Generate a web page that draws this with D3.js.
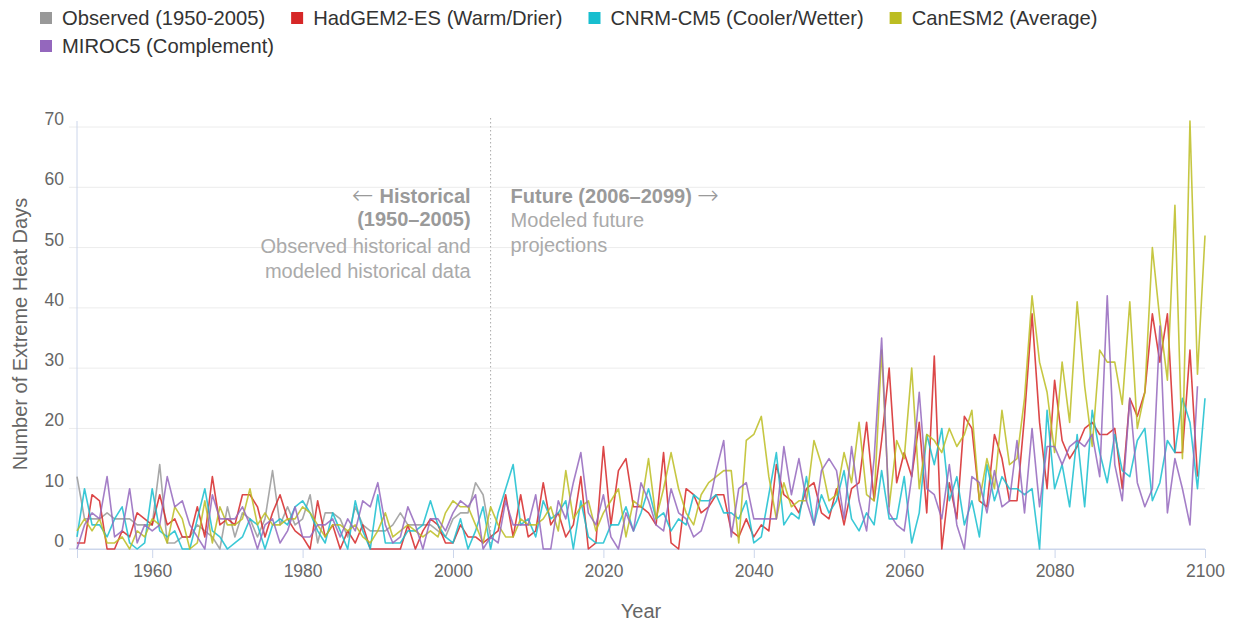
<!DOCTYPE html>
<html>
<head>
<meta charset="utf-8">
<script src="https://cdn.jsdelivr.net/npm/d3@7"></script>
<style>
  body { margin: 0; background: #fff; }
  svg { display: block; font-family: "Liberation Sans", Arial, Helvetica, sans-serif; }
</style>
</head>
<body>
<div id="chart"></div>
<script>
// Series values, one per year
const observedStart = 1950;
const modelStart = 1950;

const observed = [12,5,5,5,6,5,5,5,4,4, 4,14,1,1,2,2,4,3,2,0, 7,2,6,5,2,5,13,4,7,4,
  5,9,1,6,6,5,2,7,4,3, 3,3,4,6,4,4,4,4,3,2, 5,6,6,11,9,2];

const hadgem = [1,1,9,8,0,0,3,2,6,5, 4,9,4,5,2,2,7,2,12,4, 5,4,9,9,7,2,6,9,5,3,
  2,0,8,2,4,0,3,1,4,0, 0,0,0,0,4,0,3,5,4,1, 1,4,2,2,1,2,3,9,2,9,
  2,3,11,4,6,2,4,12,0,1, 17,4,13,15,7,7,6,4,16,1, 0,10,9,6,7,9,9,3,2,5,
  2,4,3,14,9,8,6,10,11,6, 5,10,4,10,11,21,8,18,30,11, 16,12,21,6,32,0,11,5,22,20,
  8,7,19,15,8,8,22,39,21,10, 28,18,15,17,20,21,19,19,20,10, 25,22,26,39,31,39,16,16,33,12];

const cnrm = [2,10,4,4,2,5,7,1,0,1, 10,3,2,3,0,0,5,10,3,2, 0,1,2,5,4,0,4,5,4,7,
  8,6,3,1,6,3,0,8,3,0, 9,1,1,1,3,3,4,8,4,2, 1,5,0,3,7,0,6,10,14,4,
  5,2,8,5,6,8,0,8,2,1, 1,4,4,7,3,6,10,5,6,3, 5,4,9,8,8,9,6,6,5,8,
  1,2,9,16,4,6,5,12,4,9, 6,8,13,5,3,6,4,13,5,5, 12,1,6,19,14,20,8,12,4,8,
  2,14,8,12,10,10,9,10,0,23, 10,14,7,19,7,23,16,11,19,13, 12,18,20,8,11,18,16,25,21,10, 25];

const canesm = [3,5,3,5,1,1,2,0,3,2, 5,4,1,7,5,0,1,8,1,7, 4,4,5,10,4,6,4,4,5,5,
  7,6,4,2,4,4,3,4,2,1, 3,6,2,3,4,3,2,3,2,6, 8,7,7,4,1,7,4,2,2,5,
  4,4,5,7,3,13,5,7,8,3, 6,8,10,2,8,7,15,5,10,16, 10,6,4,9,11,12,13,13,1,18,
  19,22,12,5,11,7,8,8,18,14, 8,9,16,11,21,9,8,33,7,18, 15,30,10,19,18,16,20,17,19,23,
  8,15,10,23,14,15,25,42,31,26, 16,31,21,41,27,17,33,31,31,24, 41,20,26,50,38,28,57,15,71,29, 52];

const miroc = [0,4,6,5,12,2,3,10,1,4, 3,4,12,7,8,4,2,0,9,5, 5,5,7,4,0,4,5,1,3,7,
  2,2,4,4,5,2,5,3,8,7, 11,4,1,2,7,4,0,5,5,3, 6,8,7,9,0,2,1,8,4,4,
  4,9,0,0,8,5,11,16,6,4, 9,2,0,6,3,11,8,4,3,10, 6,5,2,3,7,13,18,2,10,11,
  5,5,5,5,17,9,15,8,4,13, 15,13,5,17,8,3,15,35,6,4, 3,12,26,10,9,5,14,4,0,12,
  11,6,13,7,8,18,6,20,7,17, 17,14,17,18,17,19,12,42,14,8, 25,11,7,10,37,6,15,10,4,27];

const seriesNames = ["Observed (1950-2005)", "HadGEM2-ES (Warm/Drier)", "CNRM-CM5 (Cooler/Wetter)", "CanESM2 (Average)", "MIROC5 (Complement)"];
const seriesColors = ["#999999", "#d62728", "#17becf", "#bcbd22", "#9467bd"];
const seriesValues = [observed, hadgem, cnrm, canesm, miroc];
const seriesStarts = [observedStart, modelStart, modelStart, modelStart, modelStart];

const yTicks = [0, 10, 20, 30, 40, 50, 60, 70];
const xTicks = [1960, 1980, 2000, 2020, 2040, 2060, 2080, 2100];
const xDomain = [1950, 2100];
const splitYear = 2005;

const width = 1238, height = 625;
const margin = { top: 121, right: 33, bottom: 76, left: 77 };

const svg = d3.select("#chart").append("svg")
  .attr("width", width)
  .attr("height", height);

const x = d3.scaleLinear().domain(xDomain).range([margin.left, width - margin.right]);
const y = d3.scaleLinear()
  .domain([0, d3.max(seriesValues, s => d3.max(s))])
  .range([height - margin.bottom, margin.top]);

// grid lines
svg.append("g").selectAll("line")
  .data(yTicks)
  .enter().append("line")
  .attr("x1", margin.left - 8)
  .attr("x2", width - margin.right)
  .attr("y1", d => y(d))
  .attr("y2", d => y(d))
  .attr("stroke", d => d === 0 ? "#ccd6eb" : "#ececec")
  .attr("stroke-width", 1);

// y labels
svg.append("g").selectAll("text")
  .data(yTicks)
  .enter().append("text")
  .attr("x", margin.left - 13)
  .attr("y", d => y(d) - 2)
  .attr("text-anchor", "end")
  .attr("font-size", 17.5)
  .attr("fill", "#666")
  .text(d => d);

// y axis line
svg.append("line")
  .attr("x1", margin.left).attr("x2", margin.left)
  .attr("y1", margin.top).attr("y2", y(0))
  .attr("stroke", "#ccd6eb");

// x axis
const xAxis = svg.append("g")
  .attr("transform", `translate(0, ${y(0)})`)
  .call(d3.axisBottom(x).tickValues(xTicks).tickFormat(d3.format("d")).tickSize(9).tickPadding(7));
xAxis.select(".domain").attr("stroke", "#ccd6eb");
xAxis.selectAll(".tick line").attr("stroke", "#ccd6eb");
xAxis.selectAll(".tick text")
  .attr("font-size", 17.5)
  .attr("font-family", "Liberation Sans, Arial, sans-serif")
  .attr("fill", "#666");

// axis titles
svg.append("text")
  .attr("transform", `translate(27, 334) rotate(-90)`)
  .attr("text-anchor", "middle")
  .attr("font-size", 20)
  .attr("fill", "#666")
  .text("Number of Extreme Heat Days");

svg.append("text")
  .attr("x", (margin.left + width - margin.right) / 2)
  .attr("y", 618)
  .attr("text-anchor", "middle")
  .attr("font-size", 20)
  .attr("fill", "#666")
  .text("Year");

// split marker
svg.append("line")
  .attr("x1", x(splitYear)).attr("x2", x(splitYear))
  .attr("y1", 118).attr("y2", y(0))
  .attr("stroke", "#aaa")
  .attr("stroke-dasharray", "1.5,2.5");

const arrowFont = "DejaVu Sans";

// historical note (right-aligned, left of marker)
const leftNote = svg.append("g").attr("text-anchor", "end").attr("font-size", 20);
const lt = leftNote.append("text")
  .attr("x", x(splitYear) - 20).attr("y", 203)
  .attr("font-weight", "bold").attr("fill", "#9a9a9a");
lt.append("tspan").attr("font-family", arrowFont).attr("font-weight", 200)
  .attr("font-size", 26).attr("dy", 1).text("\u2190");
lt.append("tspan").attr("dy", -1).text(" Historical");
[["(1950\u20132005)", 226, true], ["Observed historical and", 253, false], ["modeled historical data", 278, false]]
  .forEach(([t, yy, bold]) => {
    leftNote.append("text")
      .attr("x", x(splitYear) - 20)
      .attr("y", yy)
      .attr("font-weight", bold ? "bold" : "normal")
      .attr("fill", bold ? "#9a9a9a" : "#aaa")
      .text(t);
  });

// future note
const rightNote = svg.append("g").attr("font-size", 20);
const rt = rightNote.append("text")
  .attr("x", x(splitYear) + 20).attr("y", 203)
  .attr("font-weight", "bold").attr("fill", "#9a9a9a");
rt.append("tspan").text("Future (2006\u20132099) ");
rt.append("tspan").attr("font-family", arrowFont).attr("font-weight", 200)
  .attr("font-size", 26).attr("dy", 1).text("\u2192");
[["Modeled future", 227], ["projections", 252]].forEach(([t, yy]) => {
  rightNote.append("text")
    .attr("x", x(splitYear) + 20)
    .attr("y", yy)
    .attr("fill", "#aaa")
    .text(t);
});

// lines
const line = d3.line()
  .x(d => x(d.year))
  .y(d => y(d.value));

seriesValues.forEach((vals, i) => {
  const pts = vals.map((v, k) => ({ year: seriesStarts[i] + k, value: v }));
  svg.append("path")
    .datum(pts)
    .attr("d", line)
    .attr("fill", "none")
    .attr("stroke", seriesColors[i])
    .attr("stroke-width", 1.6)
    .attr("stroke-opacity", 0.85)
    .attr("stroke-linejoin", "round");
});

// legend
const legend = svg.append("g").attr("font-size", 20.2);
let lx = 40, row = 0;
seriesNames.forEach((name, i) => {
  if (i === 4) { lx = 40; row = 1; }
  const ly = 18 + row * 28;
  legend.append("rect")
    .attr("x", lx).attr("y", ly - 6)
    .attr("width", 12).attr("height", 12)
    .attr("fill", seriesColors[i]);
  const t = legend.append("text")
    .attr("x", lx + 22).attr("y", ly + 7)
    .attr("fill", "#333")
    .text(name);
  lx += 22 + t.node().getComputedTextLength() + 26;
});
</script>
</body>
</html>
